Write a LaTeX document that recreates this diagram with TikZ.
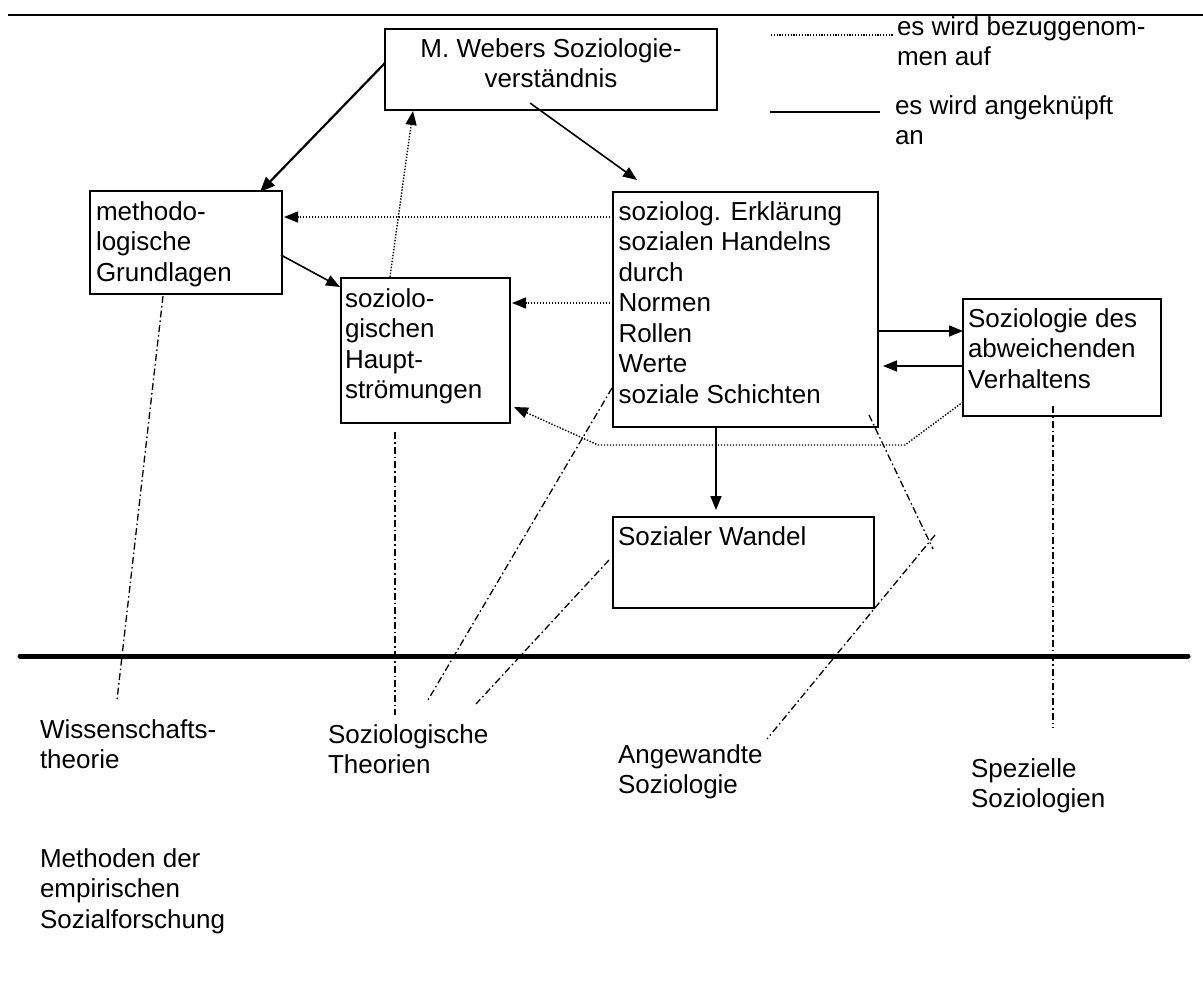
\documentclass[tikz,border=0pt]{standalone}
\usepackage{fontspec}
\setmainfont{Liberation Sans}
\usetikzlibrary{arrows.meta,calc}
\newcommand{\linesL}[1]{\begin{tabular}[t]{@{}l@{}}#1\end{tabular}}
\newcommand{\linesC}[1]{\begin{tabular}[t]{@{}c@{}}#1\end{tabular}}
\begin{document}
\begin{tikzpicture}[x=1pt,y=-1pt,
  every node/.style={inner sep=0pt, outer sep=0pt},
  txt/.style={anchor=base west, font=\fontsize{26}{30.5}\selectfont},
  boxthin/.style={draw, line width=1.4pt, anchor=north west, rectangle},
  boxthick/.style={draw, line width=2.3pt, anchor=north west, rectangle},
  arr/.style={line width=1.6pt, -{Triangle[length=14pt,width=11pt]}},
  arrthick/.style={line width=2.2pt, -{Triangle[length=15pt,width=12pt]}},
  darr/.style={line width=1.4pt, dash pattern=on 1.4pt off 1.6pt, -{Triangle[length=14pt,width=11pt]}},
  dline/.style={line width=1.2pt, dash pattern=on 1.2pt off 1.6pt},
  ddot/.style={line width=1.3pt, dash pattern=on 7pt off 3pt on 1.6pt off 3pt},
]
\useasboundingbox (0,0) rectangle (1203,994);
\fill[white] (0,0) rectangle (1203,994);

% rules
\coordinate (topL) at (8,15);
\coordinate (topR) at (1203,15);
\draw[line width=2.6pt] (topL) -- (topR);
\coordinate (baseL) at (20,656);
\coordinate (baseR) at (1188,656);
\draw[line width=5pt, line cap=round] (baseL) -- (baseR);

% boxes
\node[boxthick, minimum width=332pt, minimum height=81pt] (web) at (385,29) {};
\node[boxthick, minimum width=192pt, minimum height=103pt] (meth) at (90,191) {};
\node[boxthin, minimum width=169pt, minimum height=145pt] (haupt) at (341,278) {};
\node[boxthin, minimum width=265pt, minimum height=235pt] (erkl) at (613,192) {};
\node[boxthin, minimum width=198pt, minimum height=117pt] (abw) at (963,299) {};
\node[boxthin, minimum width=261pt, minimum height=91pt] (wand) at (613,517) {};

% box texts
\node[txt, anchor=base] (webt) at ($(web.north)+(0,28)$) {\linesC{M. Webers Soziologie-\\verständnis}};
\node[txt] (metht) at ($(meth.north west)+(6,29)$) {\linesL{methodo-\\logische\\Grundlagen}};
\node[txt] (hauptt) at ($(haupt.north west)+(4,29)$) {\linesL{soziolo-\\gischen\\Haupt-\\strömungen}};
\node[txt] (erklt) at ($(erkl.north west)+(5.5,28)$) {\linesL{soziolog. Erklärung\\sozialen Handelns\\durch\\Normen\\Rollen\\Werte\\soziale Schichten}};
\node[txt] (abwt) at ($(abw.north west)+(5,28)$) {\linesL{Soziologie des\\abweichenden\\Verhaltens}};
\node[txt] (wandt) at ($(wand.north west)+(5,28)$) {Sozialer Wandel};

% outside labels
\node[txt] (wiss) at (40,738) {\linesL{Wissenschafts-\\theorie}};
\node[txt] (theo) at (328,743) {\linesL{Soziologische\\Theorien}};
\node[txt] (angew) at (618,763) {\linesL{Angewandte\\Soziologie}};
\node[txt] (spez) at (971,777) {\linesL{Spezielle\\Soziologien}};
\node[txt] (emp) at (40,867) {\linesL{Methoden der\\empirischen\\Sozialforschung}};

% legend
\node[txt] (leg1) at (897,35) {\linesL{es wird bezuggenom-\\men auf}};
\node[txt] (leg2) at (895,114) {\linesL{es wird angeknüpft\\an}};
\coordinate (leg1s) at (771,35);
\coordinate (leg2s) at (770,112);
\draw[dline] (leg1s) -- ($(leg1.base west)+(-4,0)$);
\draw[line width=1.6pt] (leg2s) -- ($(leg2.base west)+(-15,-2)$);

% solid arrows
\draw[arrthick] ($(web.north west)+(0,34)$) -- ($(meth.north west)+(170,1)$);
\draw[arr] ($(web.north west)+(145,74)$) -- ($(erkl.north west)+(24,-12)$);
\draw[arr] ($(meth.north west)+(191,64)$) -- ($(haupt.north west)+(-1,9)$);
\draw[arr] ($(erkl.north east)+(0,139)$) -- ($(abw.north west)+(0,32)$);
\draw[arr] ($(abw.north west)+(0,67)$) -- ($(erkl.north east)+(5,174)$);
\draw[arr] ($(erkl.south west)+(103,0)$) -- ($(wand.north west)+(103,-7)$);

% dotted arrows
\draw[darr] ($(erkl.north west)+(0,25)$) -- ($(meth.north east)+(2,26)$);
\draw[darr] ($(erkl.north west)+(0,111)$) -- ($(haupt.north east)+(2,25)$);
\draw[darr] ($(haupt.north west)+(49,-1)$) -- ($(web.south west)+(28,1)$);
\draw[darr] ($(abw.north west)+(0,103)$) -- (905,445) -- (598,445) -- ($(haupt.north east)+(4,129)$);

% dash-dot lines
\coordinate (wissE) at (117,700);
\coordinate (theoE1) at (395,715);
\coordinate (theoE2) at (428,700);
\coordinate (theoE3) at (476,704);
\coordinate (vtx) at (933,549);
\coordinate (vtx2) at (935,535);
\coordinate (angE) at (767,739);
\coordinate (spezE) at (1053,728);
\draw[ddot] ($(meth.south west)+(73,2)$) -- (wissE);
\draw[ddot] ($(haupt.south west)+(54,9)$) -- (theoE1);
\draw[ddot] ($(erkl.north west)+(-1,196)$) -- (theoE2);
\draw[ddot] ($(wand.north west)+(-4,43)$) -- (theoE3);
\draw[ddot] ($(erkl.south east)+(-9,-12)$) -- (vtx);
\draw[ddot] (vtx2) -- (angE);
\draw[ddot] ($(abw.south west)+(90,-10)$) -- (spezE);
\end{tikzpicture}
\end{document}
